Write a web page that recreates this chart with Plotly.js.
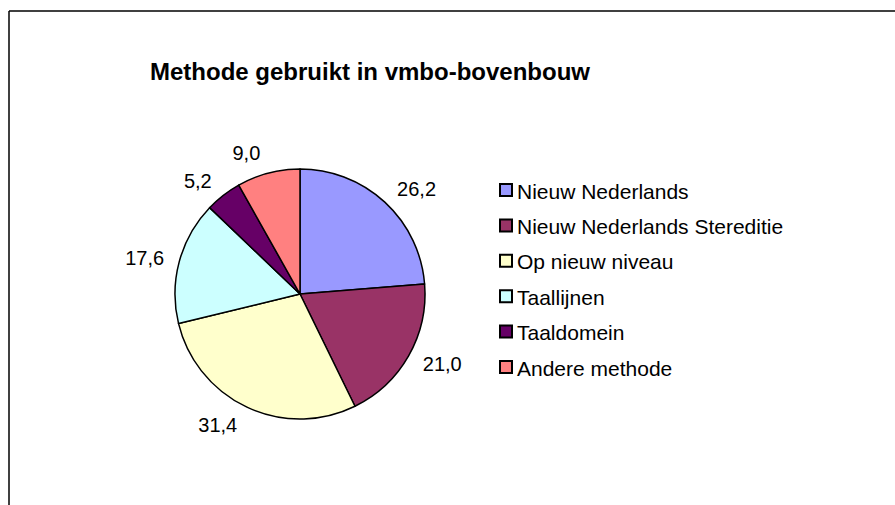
<!DOCTYPE html>
<html>
<head>
<meta charset="utf-8">
<script src="https://cdn.plot.ly/plotly-3.0.1.min.js"></script>
<style>html,body{margin:0;padding:0;background:#fff;}#chart{width:895px;height:505px;}</style>
</head>
<body>
<div id="chart"></div>
<script>
const titleText = "Methode gebruikt in vmbo-bovenbouw";
const categories = ["Nieuw Nederlands", "Nieuw Nederlands Stereditie", "Op nieuw niveau", "Taallijnen", "Taaldomein", "Andere methode"];
const values = [26.2, 21.0, 31.4, 17.6, 5.2, 9.0];
const colors = ["#9999FF", "#993366", "#FFFFCC", "#CCFFFF", "#660066", "#FF8080"];

const W = 895, H = 505;
const px = x => x / W;
const py = y => 1 - y / H;
const FONT = "Liberation Sans, Arial, sans-serif";

const cx = 300, cy = 294, R = 125, Rlab = 135;

const shapes = [
  {type:'line', xref:'paper', yref:'paper', x0:px(9), x1:px(895), y0:py(11), y1:py(11), line:{color:'#000', width:1.5}},
  {type:'line', xref:'paper', yref:'paper', x0:px(9), x1:px(9), y0:py(11), y1:py(505), line:{color:'#000', width:1.5}}
];
const annotations = [];
const legX = 500, legTop = 190, legStep = 35.4, sq = 12;
categories.forEach((c, i) => {
  const yc = legTop + i * legStep;
  shapes.push({type:'rect', xref:'paper', yref:'paper', x0:px(legX), x1:px(legX + sq), y0:py(yc - sq/2), y1:py(yc + sq/2),
    fillcolor: colors[i], line:{color:'#000', width:2}});
  annotations.push({xref:'paper', yref:'paper', x:px(legX + sq + 3), y:py(yc + 1), xanchor:'left', yanchor:'middle',
    text: c, showarrow:false, font:{family:FONT, size:21, color:'#000'}});
});

const pieTrace = {
  type:'pie',
  labels: categories,
  values: values,
  sort:false,
  direction:'clockwise',
  rotation:0,
  marker:{colors: colors, line:{color:'#000', width:1.5}},
  textinfo:'none',
  hoverinfo:'label+value',
  domain:{x:[px(cx - R), px(cx + R)], y:[py(cy + R), py(cy - R)]},
  automargin:false,
  showlegend:false
};

const labelTrace = {
  type:'pie',
  labels: categories,
  values: values,
  sort:false,
  direction:'clockwise',
  rotation:0,
  marker:{colors: categories.map(() => 'rgba(0,0,0,0)'), line:{width:0}},
  textposition:'outside',
  texttemplate:'%{value:.1f}',
  textfont:{family:FONT, size:20, color:'#000'},
  hoverinfo:'skip',
  domain:{x:[px(cx - Rlab), px(cx + Rlab)], y:[py(cy + Rlab), py(cy - Rlab)]},
  automargin:false,
  showlegend:false
};

const layout = {
  width:W, height:H,
  margin:{l:0, r:0, t:0, b:0},
  paper_bgcolor:'#fff',
  separators:',.',
  showlegend:false,
  title:{text:'<b>' + titleText + '</b>', x:px(150), xanchor:'left', xref:'paper', y:py(72), yanchor:'middle', yref:'paper',
    font:{family:FONT, size:24, color:'#000'}},
  shapes: shapes,
  annotations: annotations
};

Plotly.newPlot('chart', [pieTrace, labelTrace], layout, {displayModeBar:false, staticPlot:true});
</script>
</body>
</html>
